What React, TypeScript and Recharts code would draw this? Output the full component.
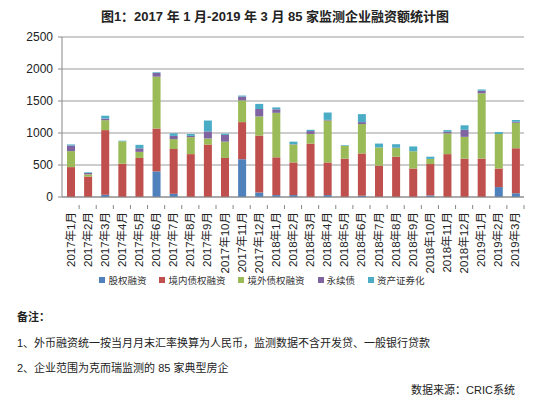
import { BarChart, Bar, XAxis, YAxis, CartesianGrid, Legend } from "recharts";

const months = [
  "2017年1月", "2017年2月", "2017年3月", "2017年4月", "2017年5月", "2017年6月", "2017年7月",
  "2017年8月", "2017年9月", "2017年10月", "2017年11月", "2017年12月", "2018年1月", "2018年2月",
  "2018年3月", "2018年4月", "2018年5月", "2018年6月", "2018年7月", "2018年8月", "2018年9月",
  "2018年10月", "2018年11月", "2018年12月", "2019年1月", "2019年2月", "2019年3月",
];
const equity = [0, 0, 35, 0, 0, 400, 50, 0, 0, 0, 590, 70, 30, 30, 0, 30, 0, 20, 0, 0, 0, 25, 0, 0, 0, 155, 60];
const domestic = [467, 320, 1010, 520, 610, 670, 700, 670, 820, 610, 580, 890, 590, 510, 835, 510, 600, 660, 490, 630, 445, 490, 670, 600, 600, 290, 700];
const overseas = [250, 35, 155, 350, 95, 810, 155, 265, 95, 255, 340, 300, 695, 280, 150, 655, 200, 460, 285, 135, 270, 80, 325, 340, 1020, 540, 400];
const perpetual = [88, 20, 25, 0, 55, 60, 50, 20, 110, 105, 60, 115, 55, 5, 45, 10, 0, 30, 0, 5, 0, 0, 25, 110, 40, 0, 15];
const abs = [16, 10, 45, 10, 55, 10, 40, 30, 170, 20, 15, 80, 30, 40, 20, 115, 10, 125, 60, 55, 75, 35, 25, 70, 20, 30, 30];
const yTicks = [0, 500, 1000, 1500, 2000, 2500];

const series = [
  { key: "equity", name: "股权融资", color: "#4f81bd" },
  { key: "domestic", name: "境内债权融资", color: "#c0504d" },
  { key: "overseas", name: "境外债权融资", color: "#9bbb59" },
  { key: "perpetual", name: "永续债", color: "#8064a2" },
  { key: "abs", name: "资产证券化", color: "#4bacc6" },
];

const data = months.map((m, i) => ({
  month: m,
  equity: equity[i],
  domestic: domestic[i],
  overseas: overseas[i],
  perpetual: perpetual[i],
  abs: abs[i],
}));

const FONT = '"Liberation Sans", Arial, "Noto Sans CJK SC", sans-serif';
const BAND = 462 / 27;

function MonthTick(props: any) {
  const { x, y, payload } = props;
  return (
    <g transform={`translate(${x},${y})`}>
      <line x1={BAND / 2} y1={0} x2={BAND / 2} y2={4} stroke="#888" />
      <text
        transform="rotate(-90)"
        x={-7}
        y={0}
        textAnchor="end"
        dominantBaseline="central"
        fontSize={11.5}
        fill="#222"
        fontFamily={FONT}
      >
        {payload.value}
      </text>
    </g>
  );
}

function LegendBox() {
  return (
    <div style={{ display: "flex", justifyContent: "center", gap: 13, fontSize: 9.5, color: "#333", height: 16, alignItems: "center" }}>
      {series.map((s) => (
        <span key={s.key} style={{ display: "flex", alignItems: "center" }}>
          <span style={{ width: 6, height: 6, background: s.color, marginRight: 3, display: "inline-block" }} />
          {s.name}
        </span>
      ))}
    </div>
  );
}

export default function App() {
  return (
    <div style={{ position: "absolute", left: 0, top: 0, width: 550, height: 399, background: "#fff", fontFamily: FONT }}>
      <div style={{ position: "absolute", top: 6, left: 0, width: 550, textAlign: "center", fontSize: 13, fontWeight: "bold", color: "#222" }}>
        图1：2017 年 1 月-2019 年 3 月 85 家监测企业融资额统计图
      </div>
      <div style={{ position: "absolute", top: 0, left: 0 }}>
        <BarChart
          width={550}
          height={288}
          data={data}
          margin={{ top: 37, right: 26, left: 0, bottom: 0 }}
          barSize={8}
        >
          <CartesianGrid vertical={false} stroke="#9a9a9a" />
          <XAxis
            dataKey="month"
            interval={0}
            height={75}
            tickLine={false}
            axisLine={{ stroke: "#888" }}
            tick={<MonthTick />}
          />
          <YAxis
            width={62}
            domain={[0, 2500]}
            ticks={yTicks}
            tickSize={4}
            tickMargin={5}
            axisLine={{ stroke: "#888" }}
            tickLine={{ stroke: "#888" }}
            tick={{ fill: "#222", fontSize: 12, fontFamily: FONT }}
          />
          <Legend verticalAlign="bottom" content={<LegendBox />} />
          {series.map((s) => (
            <Bar key={s.key} dataKey={s.key} name={s.name} stackId="a" fill={s.color} isAnimationActive={false} />
          ))}
        </BarChart>
      </div>
      <div style={{ position: "absolute", left: 17, top: 308, fontSize: 11, color: "#222", fontWeight: "bold" }}>备注：</div>
      <div style={{ position: "absolute", left: 17, top: 334, fontSize: 11, color: "#222" }}>
        1、外币融资统一按当月月末汇率换算为人民币，监测数据不含开发贷、一般银行贷款
      </div>
      <div style={{ position: "absolute", left: 17, top: 359, fontSize: 11, color: "#222" }}>
        2、企业范围为克而瑞监测的 85 家典型房企
      </div>
      <div style={{ position: "absolute", right: 35, top: 381, fontSize: 11, color: "#222" }}>
        数据来源：CRIC系统
      </div>
    </div>
  );
}
